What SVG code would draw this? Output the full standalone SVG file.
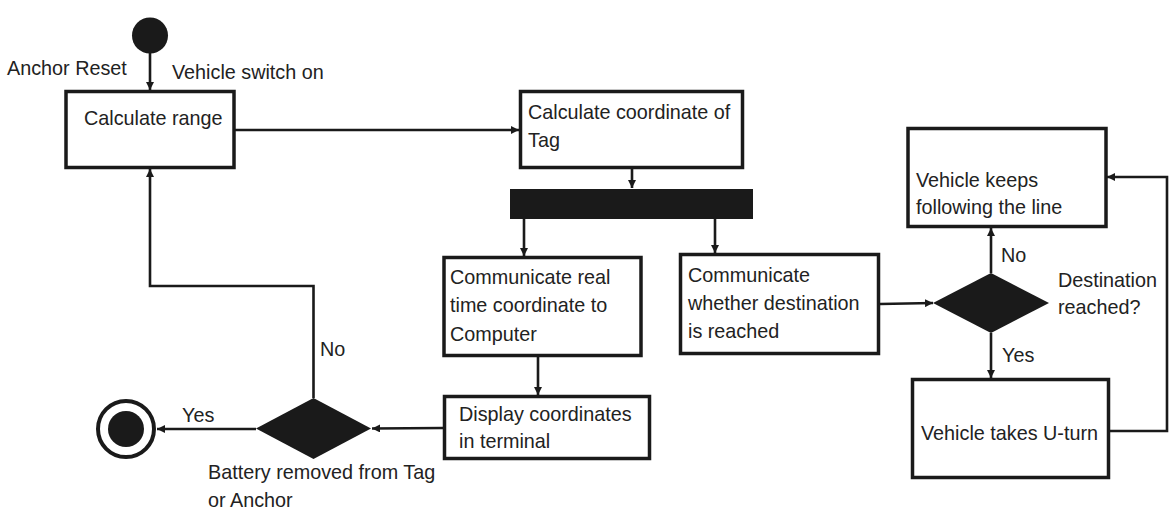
<svg xmlns="http://www.w3.org/2000/svg" width="1174" height="525" viewBox="0 0 1174 525">
<defs>
<style>
.box{fill:#fff;stroke:#1a1a1a;stroke-width:3.5}
.solid{fill:#1a1a1a}
.ln{fill:none;stroke:#1a1a1a;stroke-width:2.6}
text{font-family:"Liberation Sans",Arial,sans-serif;font-size:19.8px;fill:#222}
</style>
<marker id="arr" viewBox="0 0 8 8" markerWidth="8" markerHeight="8" refX="8" refY="4" orient="auto" markerUnits="userSpaceOnUse">
<path d="M0,0 L8,4 L0,8 z" fill="#1a1a1a"/>
</marker>
</defs>
<rect width="1174" height="525" fill="#fff"/>

<g id="connectors">
<path class="ln" d="M150,53 L150,90" marker-end="url(#arr)"/>
<path class="ln" d="M235,130 L519,130" marker-end="url(#arr)"/>
<path class="ln" d="M632,169 L632,188" marker-end="url(#arr)"/>
<path class="ln" d="M524,219 L524,256" marker-end="url(#arr)"/>
<path class="ln" d="M715,219 L715,253" marker-end="url(#arr)"/>
<path class="ln" d="M538,357 L538,395" marker-end="url(#arr)"/>
<path class="ln" d="M443,428 L372,428.5" marker-end="url(#arr)"/>
<path class="ln" d="M256,429 L157,429" marker-end="url(#arr)"/>
<path class="ln" d="M313.5,398 L313.5,286 L150,286 L150,169" marker-end="url(#arr)"/>
<path class="ln" d="M880,304 L933,303" marker-end="url(#arr)"/>
<path class="ln" d="M991,273 L991,228" marker-end="url(#arr)"/>
<path class="ln" d="M991,333 L991,378" marker-end="url(#arr)"/>
<path class="ln" d="M1110,431 L1167,431 L1167,177 L1107,177" marker-end="url(#arr)"/>
</g>

<g id="start"><circle cx="150" cy="35.5" r="18" class="solid"/></g>
<text x="7" y="75">Anchor Reset</text>
<text x="172" y="79">Vehicle switch on</text>

<g id="calc-range">
<rect class="box" x="66" y="91.5" width="168" height="76"/>
<text x="84" y="125">Calculate range</text>
</g>

<g id="calc-coord">
<rect class="box" x="520.5" y="91.5" width="222" height="76"/>
<text x="528" y="119">Calculate coordinate of</text>
<text x="528" y="147">Tag</text>
</g>

<g id="fork"><rect class="solid" x="510" y="189" width="243" height="30"/></g>

<g id="comm-real">
<rect class="box" x="444" y="257.5" width="197" height="98"/>
<text x="450" y="284">Communicate real</text>
<text x="450" y="312">time coordinate to</text>
<text x="450" y="341">Computer</text>
</g>

<g id="comm-dest">
<rect class="box" x="680.5" y="254.5" width="198" height="99"/>
<text x="688" y="282">Communicate</text>
<text x="688" y="310">whether destination</text>
<text x="688" y="338">is reached</text>
</g>

<g id="display">
<rect class="box" x="444.5" y="396.5" width="205" height="62"/>
<text x="459" y="421">Display coordinates</text>
<text x="459" y="448">in terminal</text>
</g>

<g id="decision-battery">
<polygon class="solid" points="256,428.5 313.5,398 371,428.5 313.5,459"/>
<text x="208" y="479">Battery removed from Tag</text>
<text x="208" y="507">or Anchor</text>
</g>
<text x="320" y="356">No</text>
<text x="182" y="422">Yes</text>

<g id="end">
<circle cx="126" cy="429" r="28" fill="#fff" stroke="#1a1a1a" stroke-width="4"/>
<circle cx="126" cy="429" r="18" class="solid"/>
</g>

<g id="keep-line">
<rect class="box" x="908" y="128.5" width="198" height="98"/>
<text x="916" y="187">Vehicle keeps</text>
<text x="916" y="214">following the line</text>
</g>

<g id="decision-dest">
<polygon class="solid" points="933,303 991,273 1049,303 991,333"/>
<text x="1058" y="287">Destination</text>
<text x="1058" y="314">reached?</text>
</g>
<text x="1001" y="262">No</text>
<text x="1002" y="362">Yes</text>

<g id="uturn">
<rect class="box" x="912.5" y="379.5" width="196" height="98"/>
<text x="921" y="440">Vehicle takes U-turn</text>
</g>
</svg>
